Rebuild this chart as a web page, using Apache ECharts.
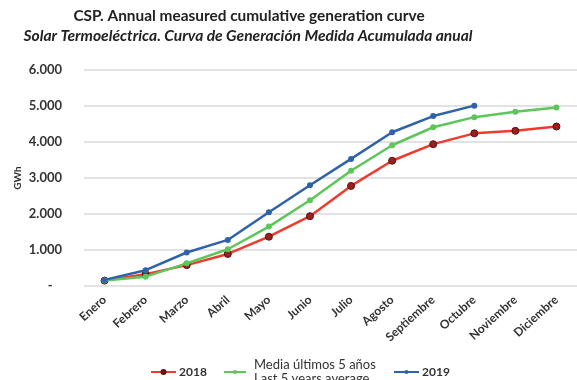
<!DOCTYPE html>
<html>
<head>
<meta charset="utf-8">
<script src="https://cdn.jsdelivr.net/npm/echarts@6/dist/echarts.min.js"></script>
<style>
  html, body { margin: 0; padding: 0; background: #fff; }
  #chart { width: 577px; height: 380px; }
</style>
</head>
<body>
<div id="chart"></div>
<script>
// Months of the year (x axis)
const months = ['Enero', 'Febrero', 'Marzo', 'Abril', 'Mayo', 'Junio', 'Julio',
  'Agosto', 'Septiembre', 'Octubre', 'Noviembre', 'Diciembre'];

// Cumulative measured generation, GWh
const gen2018 = [150, 330, 580, 890, 1370, 1940, 2780, 3480, 3940, 4240, 4310, 4430];
const genAvg5 = [150, 260, 630, 1020, 1650, 2380, 3200, 3910, 4410, 4690, 4840, 4960];
const gen2019 = [170, 440, 930, 1280, 2050, 2800, 3530, 4270, 4720, 5010];

// Series names as shown in the legend
const name2018 = '2018';
const nameAvg = 'Media últimos 5 años\nLast 5 years average';
const name2019 = '2019';

const titleEn = 'CSP. Annual measured cumulative generation curve';
const titleEs = 'Solar Termoeléctrica. Curva de Generación Medida Acumulada anual';
const unitLabel = 'GWh';

const chart = echarts.init(document.getElementById('chart'));

function fmtThousands(v) {
  if (v === 0) return '-   ';
  return String(v).replace(/\B(?=(\d{3})+(?!\d))/g, '.');
}

const legendBase = {
  itemWidth: 25, itemHeight: 5, itemGap: 0,
  textStyle: { fontWeight: 'bold', fontSize: 12, color: '#333', lineHeight: 14, padding: [0, 0, 0, -2] }
};

chart.setOption({
  animation: false,
  backgroundColor: '#ffffff',
  textStyle: { fontFamily: 'Lato' },
  graphic: [
    {
      type: 'text', x: 249, y: 9,
      style: {
        text: titleEn, align: 'center', fill: '#222',
        font: 'bold 15.4px Lato'
      }
    },
    {
      type: 'text', x: 248, y: 28,
      style: {
        text: titleEs, align: 'center', fill: '#222',
        font: 'italic bold 15.6px Lato'
      }
    },
    {
      // vertical unit label beside the value axis
      type: 'text', x: 18, y: 178, rotation: Math.PI / 2,
      style: {
        text: unitLabel, align: 'center', verticalAlign: 'middle', fill: '#333',
        font: 'bold 10px Lato'
      }
    }
  ],
  grid: { left: 84, right: -6, top: 70, bottom: 94 },
  legend: [
    Object.assign({}, legendBase, { left: 145, top: 360, data: [name2018] }),
    Object.assign({}, legendBase, {
      left: 218, top: 353, data: [nameAvg],
      itemWidth: 22,
      textStyle: { fontWeight: 'normal', fontSize: 13, color: '#333', lineHeight: 14, padding: [0, 0, 0, 3] }
    }),
    Object.assign({}, legendBase, { left: 388, top: 360, data: [name2019] })
  ],
  xAxis: {
    type: 'category',
    data: months,
    boundaryGap: true,
    axisLine: { show: false },
    axisTick: { show: false },
    axisLabel: {
      rotate: 42, interval: 0, margin: 12,
      fontWeight: 'bold', fontSize: 12, color: '#333'
    }
  },
  yAxis: {
    type: 'value',
    min: 0, max: 6000, interval: 1000,
    axisLine: { show: false },
    axisTick: { show: false },
    axisLabel: {
      margin: 22, fontWeight: 'bold', fontSize: 13, color: '#333',
      formatter: fmtThousands
    },
    splitLine: { lineStyle: { color: '#d9d9d9', width: 1.5 } }
  },
  series: [
    {
      name: name2018, type: 'line', data: gen2018,
      symbol: 'circle', symbolSize: 7,
      lineStyle: { color: '#f03a2e', width: 2.5 },
      itemStyle: { color: '#9a1f1f', borderColor: '#5a1010', borderWidth: 1 },
      z: 2
    },
    {
      name: nameAvg, type: 'line', data: genAvg5,
      symbol: 'circle', symbolSize: 6,
      lineStyle: { color: '#5cc65a', width: 2.5 },
      itemStyle: { color: '#5cc65a' },
      z: 3
    },
    {
      name: name2019, type: 'line', data: gen2019,
      symbol: 'circle', symbolSize: 6,
      lineStyle: { color: '#2f63a9', width: 2.5 },
      itemStyle: { color: '#2f63a9' },
      z: 4
    }
  ]
});
</script>
</body>
</html>
